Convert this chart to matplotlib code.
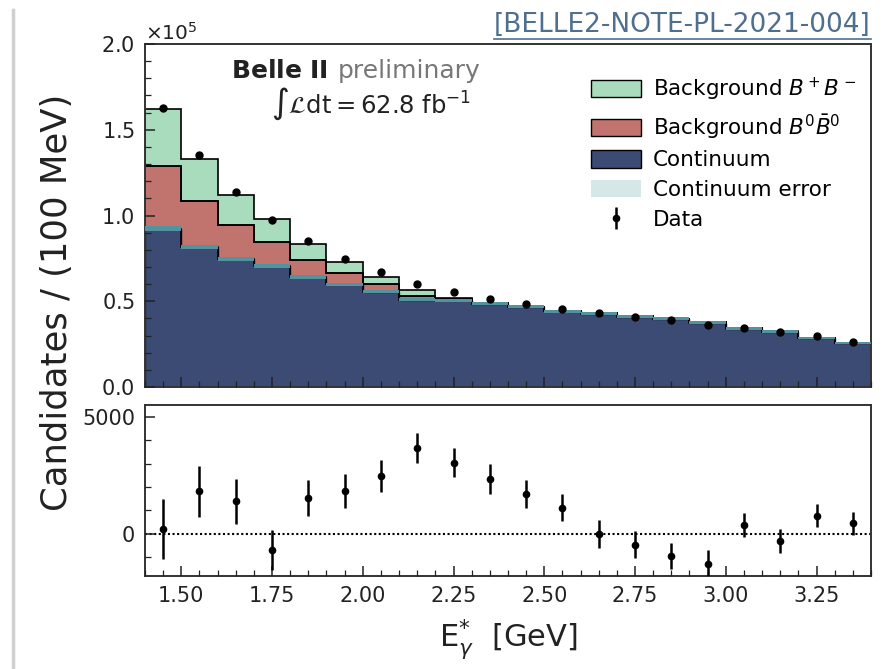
import numpy as np
import matplotlib
matplotlib.use("Agg")
import matplotlib.pyplot as plt
from matplotlib.patches import Patch
from matplotlib.ticker import MultipleLocator

# Photon energy bins [GeV]
bin_edges = [1.4, 1.5, 1.6, 1.7, 1.8, 1.9, 2.0, 2.1, 2.2, 2.3, 2.4,
             2.5, 2.6, 2.7, 2.8, 2.9, 3.0, 3.1, 3.2, 3.3, 3.4]
bin_centers = [1.45, 1.55, 1.65, 1.75, 1.85, 1.95, 2.05, 2.15, 2.25, 2.35,
               2.45, 2.55, 2.65, 2.75, 2.85, 2.95, 3.05, 3.15, 3.25, 3.35]

# Candidates per 100 MeV
data_counts = [162500, 135200, 113700, 97200, 84900, 74800, 66900, 60100, 55200, 51300,
               48600, 45500, 43000, 40800, 39000, 36400, 34600, 32100, 29600, 26200]
continuum = [92300, 81600, 74500, 70500, 64300, 59800, 55500, 51000, 50600, 48600,
             46700, 44200, 42850, 41100, 39800, 37550, 34100, 32300, 28750, 25700]
continuum_err = [1300, 1200, 1150, 1100, 1050, 1000, 950, 920, 900, 880,
                 860, 840, 820, 800, 780, 760, 740, 720, 700, 680]
bkg_b0b0 = [36600, 27000, 19800, 14200, 9700, 6500, 4400, 2300, 800, 200,
            100, 100, 100, 100, 100, 80, 80, 70, 50, 40]
bkg_bpbm = [33200, 24500, 17800, 13300, 9200, 6600, 4400, 3000, 700, 150,
            100, 80, 60, 50, 50, 40, 30, 30, 30, 20]

# Data minus expectation
residual = [214, 1814, 1386, -686, 1529, 1814, 2457, 3657, 3043, 2343,
            1700, 1114, -14, -457, -957, -1271, 386, -300, 771, 443]
residual_err = [1290, 1086, 950, 857, 786, 721, 679, 650, 629, 621,
                600, 586, 586, 564, 557, 564, 514, 500, 486, 486]

c_bpbm = "#a9dcbd"
c_b0b0 = "#c1736d"
c_cont = "#3c4b74"
c_err_band = "#5393a0"
c_err_legend = "#d6e7e8"

plt.rcParams["font.family"] = ["DejaVu Sans"]
plt.rcParams["mathtext.fontset"] = "dejavusans"

fig = plt.figure(figsize=(8.83, 6.69), dpi=100)
ax = fig.add_axes([0.1642, 0.4215, 0.8222, 0.5127])
axr = fig.add_axes([0.1642, 0.1390, 0.8222, 0.2556], sharex=ax)

edges = np.array(bin_edges)
cont = np.array(continuum, float)
b0 = np.array(bkg_b0b0, float)
bp = np.array(bkg_bpbm, float)
cerr = np.array(continuum_err, float)
red_top = cont + b0
total = red_top + bp

# stacked expectation
ax.stairs(cont, edges, baseline=0, fill=True, color=c_cont, zorder=1)
ax.stairs(red_top, edges, baseline=cont, fill=True, color=c_b0b0, zorder=1)
ax.stairs(total, edges, baseline=red_top, fill=True, color=c_bpbm, zorder=1)
ax.stairs(cont, edges, baseline=0, color="#1a1f30", lw=1.0, zorder=2)
ax.stairs(red_top, edges, baseline=cont, color="black", lw=1.2, zorder=2)
ax.stairs(total, edges, baseline=red_top, color="black", lw=1.2, zorder=2)
# continuum uncertainty band
ax.stairs(cont + cerr, edges, baseline=cont - cerr, fill=True,
          color=c_err_band, zorder=3)

ax.plot(bin_centers, data_counts, "o", color="black", ms=5, zorder=4)

ax.set_xlim(1.4, 3.4)
ax.set_ylim(0, 2.0e5)
ax.ticklabel_format(axis="y", style="sci", scilimits=(0, 0), useMathText=True)
ax.yaxis.get_offset_text().set_fontsize(14.5)
ax.yaxis.set_major_locator(MultipleLocator(0.5e5))
ax.yaxis.set_minor_locator(MultipleLocator(0.1e5))
ax.xaxis.set_major_locator(MultipleLocator(0.25))
ax.xaxis.set_minor_locator(MultipleLocator(0.05))
plt.setp(ax.get_xticklabels(), visible=False)

ax.text(0.252, 0.921, r"$\mathbf{Belle\ II}$", transform=ax.transAxes,
        fontsize=18, ha="right", va="center", color="#222222")
ax.text(0.265, 0.921, "preliminary", transform=ax.transAxes,
        fontsize=18, ha="left", va="center", color="#777777")
ax.text(0.311, 0.826, r"$\int\mathcal{L}\mathrm{dt} = 62.8\ \mathrm{fb}^{-1}$",
        transform=ax.transAxes, fontsize=17.5, ha="center", va="center",
        color="#222222")

# residual panel
eb = axr.errorbar(bin_centers, residual, yerr=residual_err, fmt="o", color="black",
                  ms=4.5, elinewidth=1.8, capsize=0, zorder=3)
axr.axhline(0, color="black", ls=(0, (1, 1.2)), lw=1.5, zorder=2)
axr.set_ylim(-1800, 5500)
axr.yaxis.set_major_locator(MultipleLocator(5000))
axr.yaxis.set_minor_locator(MultipleLocator(1000))

for a in (ax, axr):
    a.tick_params(which="both", direction="in", top=False, right=False,
                  labelsize=15, colors="#222222", pad=7)
    a.tick_params(which="major", length=7, width=1.1)
    a.tick_params(which="minor", length=4, width=0.9)
    for s in a.spines.values():
        s.set_linewidth(1.4)
        s.set_color("#333333")
    a.set_axisbelow(False)

axr.set_xlabel(r"E$^{*}_{\gamma}$  [GeV]", fontsize=22, color="#222222", labelpad=9)
fig.text(0.064, 0.548, "Candidates / (100 MeV)", rotation=90, fontsize=25.5,
         ha="center", va="center", color="#222222")

handles = [Patch(facecolor=c_bpbm, edgecolor="black", lw=1.0),
           Patch(facecolor=c_b0b0, edgecolor="black", lw=1.0),
           Patch(facecolor=c_cont, edgecolor="black", lw=1.0),
           Patch(facecolor=c_err_legend, edgecolor="none"),
           eb]
labels = [r"Background $B^+B^-$", r"Background $B^0\bar{B}^0$", "Continuum",
          "Continuum error", "Data"]
ax.legend(handles, labels, loc="upper right", bbox_to_anchor=(1.0, 0.953),
          frameon=False, fontsize=15.5, handlelength=2.3, handleheight=0.85,
          handletextpad=0.55, labelspacing=0.45, borderaxespad=0.3)

# document reference tag
tag = fig.text(0.986, 0.952, "[BELLE2-NOTE-PL-2021-004]", fontsize=19,
               family=["DejaVu Sans"], color="#4f6f8f",
               ha="right", va="baseline")
fig.canvas.draw()
bb = tag.get_window_extent().transformed(fig.transFigure.inverted())
fig.add_artist(plt.Line2D([bb.x0, bb.x1], [bb.y0 - 0.001, bb.y0 - 0.001],
                          transform=fig.transFigure, color="#4f6f8f", lw=1.2))
# page edge on the left
fig.add_artist(plt.Line2D([0.0145, 0.0145], [0.0, 0.985], transform=fig.transFigure,
                          color="#d0d0d0", lw=2.5))

fig.savefig("out.png", dpi=100)
